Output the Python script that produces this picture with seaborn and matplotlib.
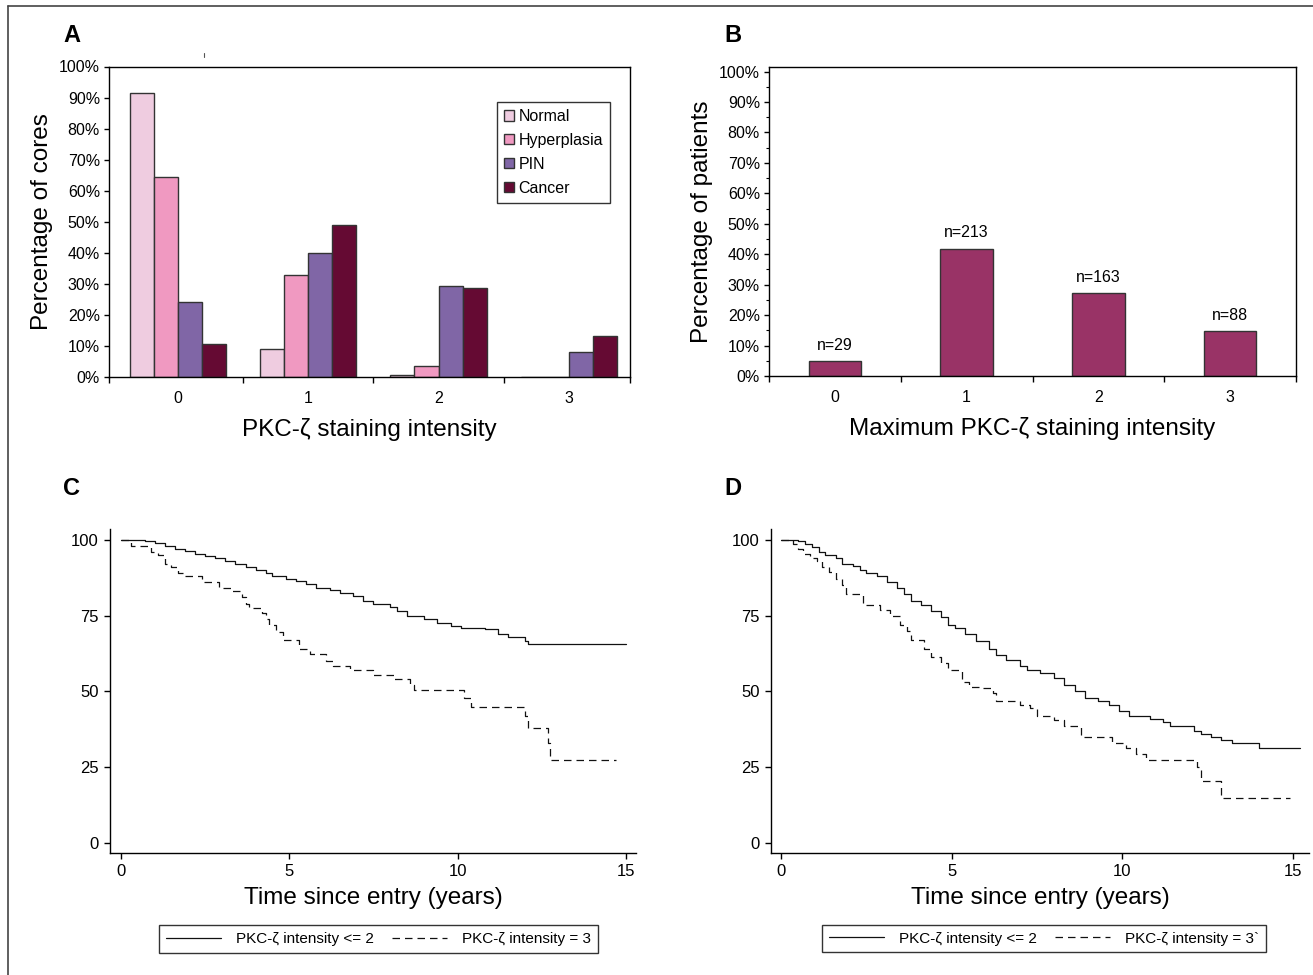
import numpy as np
import pandas as pd
import matplotlib
matplotlib.use("Agg")
import matplotlib.pyplot as plt
from matplotlib.lines import Line2D
from matplotlib.ticker import MultipleLocator, FixedLocator, PercentFormatter
import seaborn as sns

# --- panel A: percentage of cores by staining intensity ---
tissue_types = ["Normal", "Hyperplasia", "PIN", "Cancer"]
intensity_levels = ["0", "1", "2", "3"]
normal_pct = [91.5, 9.0, 0.8, 0.0]
hyperplasia_pct = [64.5, 33.0, 3.5, 0.0]
pin_pct = [24.2, 40.0, 29.4, 8.1]
cancer_pct = [10.5, 49.0, 28.8, 13.2]
tissue_colors = ["#EFCCE0", "#F099C1", "#8066A6", "#650A33"]

# --- panel B: maximum staining intensity per patient ---
max_pct = [4.9, 41.8, 27.1, 14.7]
max_n = [29, 213, 163, 88]

# --- panel C: survival curves ---
c_low_t = [0, 0.7, 1.0, 1.3, 1.6, 1.9, 2.2, 2.5, 2.8, 3.1, 3.4, 3.7, 4.0, 4.3, 4.5, 4.9,
           5.2, 5.5, 5.8, 6.2, 6.5, 6.9, 7.2, 7.5, 8.0, 8.2, 8.5, 9.0, 9.4, 9.8, 10.1,
           10.8, 11.2, 11.5, 12.0, 12.1, 15.0]
c_low_s = [100, 99.5, 99, 98, 97, 96.5, 95.5, 94.8, 94, 93, 92, 91, 90, 89, 88.2, 87,
           86.5, 85.5, 84, 83.5, 82.5, 81.5, 80, 79, 78, 76.5, 75, 74, 72.5, 71.7, 71,
           70.5, 69, 68, 66.5, 65.5, 65.5]
c_high_t = [0, 0.3, 0.9, 1.1, 1.3, 1.5, 1.7, 1.9, 2.4, 2.9, 3.3, 3.6, 3.7, 3.8, 4.2, 4.3,
            4.4, 4.6, 4.8, 5.3, 5.6, 6.1, 6.3, 6.8, 7.5, 8.1, 8.6, 8.7, 10.2, 10.4, 12.0,
            12.1, 12.7, 12.75, 14.7]
c_high_s = [100, 98, 96, 95, 92, 91, 89, 88, 86, 84, 83, 81, 79, 77.5, 76, 74,
            72, 69.5, 67, 64, 62.5, 60, 58.5, 57, 55.5, 54, 52, 50.5, 48, 45, 42,
            38, 33, 27.5, 27.5]

# --- panel D: survival curves ---
d_low_t = [0, 0.5, 0.7, 0.9, 1.1, 1.3, 1.6, 1.8, 2.1, 2.3, 2.5, 2.8, 3.1, 3.4, 3.6, 3.8,
           4.1, 4.4, 4.7, 4.9, 5.1, 5.4, 5.7, 6.1, 6.3, 6.6, 7.0, 7.2, 7.6, 8.0, 8.3,
           8.6, 8.9, 9.3, 9.6, 9.9, 10.2, 10.8, 11.2, 11.4, 12.1, 12.3, 12.6, 12.9,
           13.2, 14.0, 15.2]
d_low_s = [100, 99.5, 98.5, 97.5, 96, 95, 94, 92, 91.5, 90, 89, 88, 86, 84, 82, 80,
           78.5, 76.5, 74.5, 72, 71, 69, 66.5, 64, 62, 60.5, 58.5, 57, 56, 54.5, 52,
           50, 48, 47, 45.5, 43.5, 42, 41, 40, 38.5, 37, 36, 35, 34,
           33, 31.5, 31.5]
d_high_t = [0, 0.35, 0.5, 0.65, 0.85, 1.05, 1.2, 1.4, 1.6, 1.8, 1.9, 2.4, 2.9, 3.2, 3.5,
            3.7, 3.8, 4.2, 4.4, 4.7, 4.9, 5.3, 5.5, 5.8, 6.2, 6.3, 7.0, 7.3, 7.5, 8.0,
            8.3, 8.8, 9.7, 10.1, 10.4, 10.7, 12.2, 12.3, 12.9, 14.9]
d_high_s = [100, 98.5, 97, 95.5, 94, 93, 91, 89.5, 87, 85, 82, 78.5, 77, 75, 72,
            70, 67, 64, 61.5, 59.5, 57, 53, 51.5, 51, 49.5, 47, 45.5, 44.5, 42, 40.5,
            38.5, 35, 33, 31.5, 29.5, 27.5, 25, 20.5, 15, 15]

legend_c = ["PKC-ζ intensity <= 2", "PKC-ζ intensity = 3"]
legend_d = ["PKC-ζ intensity <= 2", "PKC-ζ intensity = 3`"]

W, H = 1313, 975


def rect(l, t, r, b):
    # pixel box -> figure fraction
    return [l / W, 1 - b / H, (r - l) / W, (b - t) / H]


sns.set_style("ticks")
plt.rcParams["font.family"] = ["Liberation Sans", "DejaVu Sans"]
for k in ["text.color", "axes.labelcolor", "xtick.color", "ytick.color", "axes.edgecolor"]:
    plt.rcParams[k] = "black"
plt.rcParams["axes.linewidth"] = 1.0

fig = plt.figure(figsize=(W / 100, H / 100), dpi=100)

# ================= A =================
rows = []
for name, vals in zip(tissue_types, [normal_pct, hyperplasia_pct, pin_pct, cancer_pct]):
    for lvl, v in zip(intensity_levels, vals):
        rows.append({"intensity": lvl, "tissue": name, "pct": v})
df_a = pd.DataFrame(rows)

axA = fig.add_axes(rect(109, 66.5, 630, 377))
sns.barplot(data=df_a, x="intensity", y="pct", hue="tissue", order=intensity_levels,
            hue_order=tissue_types, palette=tissue_colors, saturation=1, width=0.74,
            edgecolor="#333333", linewidth=1.0, ax=axA)
axA.set_xlim(-0.53, 3.47)
axA.set_ylim(0, 100)
axA.yaxis.set_major_locator(MultipleLocator(10))
axA.yaxis.set_major_formatter(PercentFormatter(decimals=0))
axA.xaxis.set_minor_locator(FixedLocator([-0.53, 0.5, 1.5, 2.5, 3.47]))
axA.tick_params(axis="x", which="major", length=0, pad=10, labelsize=11.5)
axA.tick_params(axis="x", which="minor", length=4.5, width=1)
axA.tick_params(axis="y", length=3.5, width=1, pad=3, labelsize=11.5)
axA.set_xlabel("PKC-ζ staining intensity", fontsize=17.5, labelpad=9)
axA.set_ylabel("Percentage of cores", fontsize=17.5, labelpad=4)
legA = axA.legend(loc="upper right", bbox_to_anchor=(0.9616, 0.8857), borderaxespad=0,
                  frameon=True, fancybox=False, edgecolor="black", fontsize=11.5,
                  handlelength=0.6, handleheight=0.6, handletextpad=0.3,
                  labelspacing=0.55, borderpad=0.45, title=None)
legA.get_frame().set_linewidth(1.0)

# ================= B =================
axB = fig.add_axes(rect(769, 67, 1296, 376))
sns.barplot(x=intensity_levels, y=max_pct, color="#993366", saturation=1, width=0.4,
            edgecolor="#333333", linewidth=1.0, ax=axB)
axB.set_xlim(-0.5, 3.5)
axB.set_ylim(0, 101.5)
axB.yaxis.set_major_locator(MultipleLocator(10))
axB.yaxis.set_minor_locator(MultipleLocator(5))
axB.yaxis.set_major_formatter(PercentFormatter(decimals=0))
axB.xaxis.set_minor_locator(FixedLocator([-0.5, 0.5, 1.5, 2.5, 3.5]))
axB.tick_params(axis="x", which="major", length=0, pad=10, labelsize=11.5)
axB.tick_params(axis="x", which="minor", length=4.5, width=1)
axB.tick_params(axis="y", which="major", length=3.5, width=1, pad=3, labelsize=11.5)
axB.tick_params(axis="y", which="minor", length=2.5, width=0.8)
axB.set_xlabel("Maximum PKC-ζ staining intensity", fontsize=17.5, labelpad=9)
axB.set_ylabel("Percentage of patients", fontsize=17.5, labelpad=4)
for i, (v, n) in enumerate(zip(max_pct, max_n)):
    axB.annotate(f"n={n}", (i, v), xytext=(0, 6), textcoords="offset points",
                 ha="center", va="bottom", fontsize=11.5)


# ================= C / D =================
def km_panel(box, low_t, low_s, high_t, high_s, xlim, labels, leg_center):
    ax = fig.add_axes(rect(*box))
    sns.lineplot(x=low_t, y=low_s, estimator=None, drawstyle="steps-post",
                 color="#111111", lw=0.9, ax=ax)
    sns.lineplot(x=high_t, y=high_s, estimator=None, drawstyle="steps-post",
                 color="#111111", lw=0.9, dashes=(6, 4), ax=ax)
    ax.set_xlim(*xlim)
    ax.set_ylim(-3.3, 103.6)
    ax.set_xticks([0, 5, 10, 15])
    ax.set_yticks([0, 25, 50, 75, 100])
    ax.spines["top"].set_visible(False)
    ax.spines["right"].set_visible(False)
    ax.tick_params(axis="both", length=4, width=1, pad=4, labelsize=12)
    ax.set_xlabel("Time since entry (years)", fontsize=17.5, labelpad=6)
    ax.set_ylabel("")
    handles = [Line2D([], [], color="#111111", lw=0.9),
               Line2D([], [], color="#111111", lw=0.9, dashes=(6, 4))]
    leg = ax.legend(handles, labels, ncol=2, loc="center",
                    bbox_to_anchor=(leg_center[0] / W, 1 - leg_center[1] / H),
                    bbox_transform=fig.transFigure, frameon=True, fancybox=False,
                    edgecolor="black", fontsize=11, handlelength=3.6,
                    handletextpad=1.0, columnspacing=1.2, borderpad=0.45)
    leg.get_frame().set_linewidth(1.0)
    return ax


km_panel((110, 529, 636, 853), c_low_t, c_low_s, c_high_t, c_high_s,
         (-0.327, 15.3), legend_c, (378.5, 939))
km_panel((771, 529, 1309, 853), d_low_t, d_low_s, d_high_t, d_high_s,
         (-0.293, 15.47), legend_d, (1044, 938.5))

# panel letters
for lab, x, y in [("A", 72, 35), ("B", 733, 35), ("C", 72, 489), ("D", 733, 489)]:
    fig.text(x / W, 1 - y / H, lab, fontsize=17, fontweight="bold", ha="center", va="center")

# frame lines at top and left, plus the small stray mark above panel A
fig.add_artist(Line2D([8 / W, 1], [1 - 6 / H, 1 - 6 / H], color="#444444", lw=1.2,
                      transform=fig.transFigure))
fig.add_artist(Line2D([8 / W, 8 / W], [0, 1 - 6 / H], color="#444444", lw=1.2,
                      transform=fig.transFigure))
fig.add_artist(Line2D([204 / W, 204 / W], [1 - 53 / H, 1 - 57 / H], color="#555555",
                      lw=0.8, transform=fig.transFigure))

fig.savefig("out.png", dpi=100)
plt.close(fig)
